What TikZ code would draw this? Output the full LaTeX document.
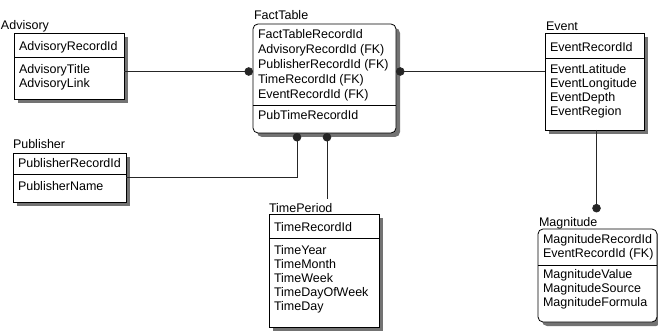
\documentclass[tikz,border=0pt]{standalone}
\usepackage{fontspec}
\setmainfont{Liberation Sans}
\usetikzlibrary{arrows.meta,shadows}

\begin{document}
\begin{tikzpicture}[x=1pt,y=-1pt,
    every node/.style={inner sep=0pt, outer sep=0pt},
    tbl/.style={draw, line width=0.8pt, fill=white, anchor=north west,
      drop shadow={shadow xshift=4pt, shadow yshift=-4pt, fill=black!55, opacity=1}},
    tblname/.style={anchor=base west, font=\fontsize{12.5}{14}\selectfont},
    cols/.style={anchor=north west, align=left, font=\fontsize{12.5}{14}\selectfont},
    rel/.style={line width=0.8pt, black!85}]
        \useasboundingbox (0,0) rectangle (658,331);
        % tables
        \node[tbl, minimum width=110, minimum height=66] (adv) at (14,33) {};
        \node[tbl, rounded corners=5pt, minimum width=143, minimum height=109] (fact) at (253,24) {};
        \node[tbl, minimum width=99, minimum height=97] (evt) at (545,33) {};
        \node[tbl, minimum width=113, minimum height=49] (pub) at (13,153) {};
        \node[tbl, minimum width=110, minimum height=113] (tper) at (269,214) {};
        \node[tbl, rounded corners=5pt, minimum width=119, minimum height=93] (mag) at (538,229) {};
        \draw[line width=0.8pt] (14,57) -- (124,57);
        \draw[line width=0.8pt] (253,105) -- (396,105);
        \draw[line width=0.8pt] (545,58) -- (644,58);
        \draw[line width=0.8pt] (13,174) -- (126,174);
        \draw[line width=0.8pt] (269,238.5) -- (379,238.5);
        \draw[line width=0.8pt] (538,265) -- (657,265);
        % names
        \node[tblname] (advN) at (1,30) {Advisory};
        \node[tblname] (factN) at (254,20) {FactTable};
        \node[tblname] (evtN) at (546,31) {Event};
        \node[tblname] (pubN) at (13,149) {Publisher};
        \node[tblname] (tperN) at (269,212) {TimePeriod};
        \node[tblname] (magN) at (539,226) {Magnitude};
        % columns
        \node[cols] (advK) at (19,41) {AdvisoryRecordId};
        \node[cols] (advA) at (19,64) {AdvisoryTitle\\AdvisoryLink};
        \node[cols, font=\fontsize{12.5}{15}\selectfont] (factK) at (258,29)
          {FactTableRecordId\\AdvisoryRecordId (FK)\\PublisherRecordId (FK)\\TimeRecordId (FK)\\EventRecordId (FK)};
        \node[cols] (factA) at (258,110) {PubTimeRecordId};
        \node[cols] (evtK) at (550,42) {EventRecordId};
        \node[cols] (evtA) at (550,64) {EventLatitude\\EventLongitude\\EventDepth\\EventRegion};
        \node[cols] (pubK) at (18,158.5) {PublisherRecordId};
        \node[cols] (pubA) at (18,181.5) {PublisherName};
        \node[cols] (tperK) at (274,222.5) {TimeRecordId};
        \node[cols] (tperA) at (274,245) {TimeYear\\TimeMonth\\TimeWeek\\TimeDayOfWeek\\TimeDay};
        \node[cols] (magK) at (543,234.5) {MagnitudeRecordId\\EventRecordId (FK)};
        \node[cols] (magA) at (543,269) {MagnitudeValue\\MagnitudeSource\\MagnitudeFormula};
        % relationships
        \draw[rel, -{Circle[length=8.5pt]}] (adv.east |- 0,71.5) -- (fact.west |- 0,71.5);
        \draw[rel, {Circle[length=8.5pt]}-] (fact.east |- 0,71.5) -- (evt.west |- 0,71.5);
        \draw[rel, -{Circle[length=8.5pt]}] (pub.east |- 0,177) -| ([xshift=-27.5]fact.south);
        \draw[rel, {Circle[length=8.5pt]}-, shorten >=4pt] ([xshift=2.5]fact.south) -- ([xshift=2.5]fact.south |- tperN.north);
        \draw[rel, -{Circle[length=8.5pt]}, shorten >=4.5pt] ([xshift=2]evt.south) -- ([xshift=2]evt.south |- magN.north);
      \end{tikzpicture}
\end{document}
